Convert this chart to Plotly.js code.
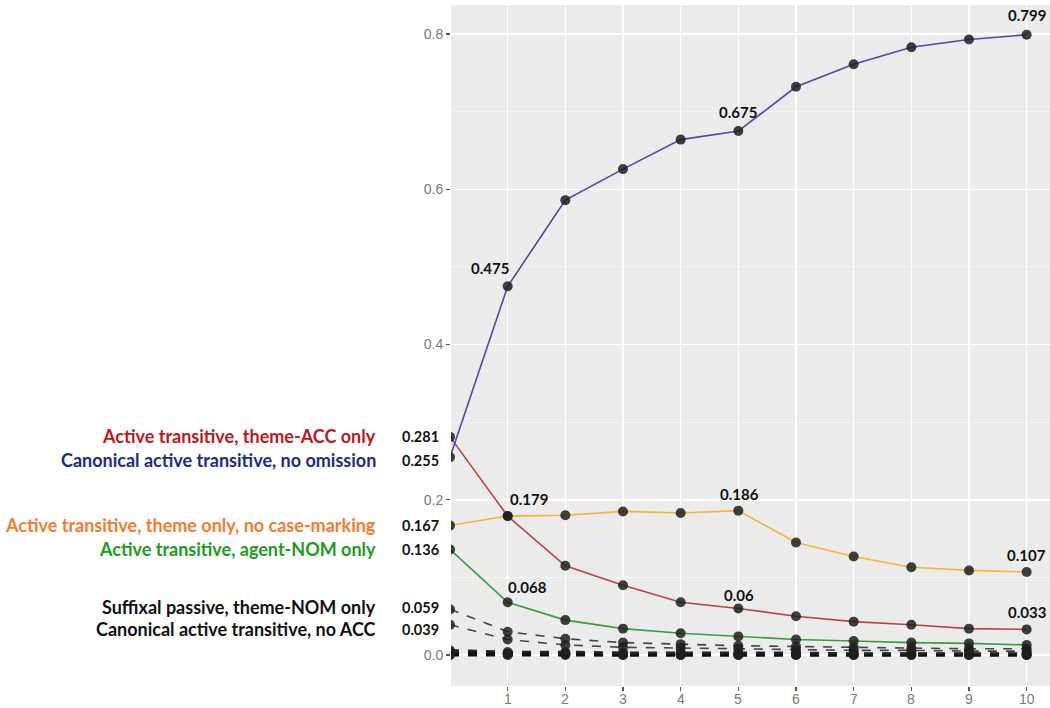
<!DOCTYPE html>
<html>
<head>
<meta charset="utf-8">
<script src="https://cdn.plot.ly/plotly-3.0.1.min.js"></script>
<style>html,body{margin:0;padding:0;background:#fff;}#chart{width:1050px;height:708px;}</style>
</head>
<body>
<div id="chart"></div>
<script>
// ---- data ----
const steps = [0, 1, 2, 3, 4, 5, 6, 7, 8, 9, 10];
const xTickVals = [1, 2, 3, 4, 5, 6, 7, 8, 9, 10];
const xTickLabels = ["1", "2", "3", "4", "5", "6", "7", "8", "9", "10"];
const yTickVals = [0, 0.2, 0.4, 0.6, 0.8];
const yTickLabels = ["0.0", "0.2", "0.4", "0.6", "0.8"];

const seriesNames = [
  "Active transitive, theme-ACC only",
  "Canonical active transitive, no omission",
  "Active transitive, theme only, no case-marking",
  "Active transitive, agent-NOM only",
  "Suffixal passive, theme-NOM only",
  "Canonical active transitive, no ACC"
];
const canonicalVals = [0.255, 0.475, 0.586, 0.626, 0.664, 0.675, 0.732, 0.761, 0.783, 0.793, 0.799];
const themeAccVals  = [0.281, 0.179, 0.115, 0.090, 0.068, 0.060, 0.050, 0.043, 0.039, 0.034, 0.033];
const themeOnlyVals = [0.167, 0.179, 0.180, 0.185, 0.183, 0.186, 0.145, 0.127, 0.113, 0.109, 0.107];
const agentNomVals  = [0.136, 0.068, 0.045, 0.034, 0.028, 0.024, 0.020, 0.018, 0.016, 0.015, 0.013];
const passiveVals   = [0.059, 0.030, 0.021, 0.016, 0.014, 0.012, 0.011, 0.010, 0.009, 0.008, 0.008];
const noAccVals     = [0.039, 0.020, 0.013, 0.010, 0.009, 0.008, 0.007, 0.006, 0.006, 0.005, 0.005];
const minorA = [0.006, 0.004, 0.004, 0.003, 0.003, 0.003, 0.003, 0.002, 0.002, 0.002, 0.002];
const minorB = [0.003, 0.002, 0.002, 0.002, 0.001, 0.001, 0.001, 0.001, 0.001, 0.001, 0.001];
const minorC = [0.001, 0.001, 0.001, 0.000, 0.000, 0.000, 0.000, 0.000, 0.000, 0.000, 0.000];
const minorD = [0.000, 0.000, 0.000, 0.000, 0.000, 0.000, 0.000, 0.000, 0.000, 0.000, 0.000];

// ---- layout constants ----
const W = 1050, H = 708;
const L = 451, R = 0, T = 5, B = 22;
const PW = W - L - R;
const FONT = "Lato, 'Open Sans', sans-serif";
const TICKFONT = "Liberation Sans, Arial, sans-serif";
const px2paper = px => (px - L) / PW;
const px2y = p => (655 - p) / 776.25;

const traces = [];
function lineTrace(y, color, width, dash) {
  traces.push({x: steps, y: y, mode: "lines", type: "scatter", hoverinfo: "skip",
    line: {color: color, width: width, dash: dash || "solid"}, showlegend: false});
}
// dashed minor series
lineTrace(minorD, "#111111", 3, "dash");
lineTrace(minorC, "#111111", 3, "dash");
lineTrace(minorB, "#111111", 3, "dash");
lineTrace(minorA, "#222222", 2.5, "dash");
lineTrace(noAccVals, "#444444", 1.6, "dash");
lineTrace(passiveVals, "#444444", 1.6, "dash");
// coloured series
lineTrace(agentNomVals, "#3c9a3c", 1.6);
lineTrace(themeOnlyVals, "#f5b233", 1.6);
lineTrace(themeAccVals, "#b34545", 1.6);
lineTrace(canonicalVals, "#4a48a8", 1.6);

[minorD, minorC, minorB, minorA, noAccVals, passiveVals, agentNomVals, themeOnlyVals, themeAccVals, canonicalVals]
  .forEach(y => traces.push({x: steps, y: y, mode: "markers", type: "scatter", hoverinfo: "skip",
    marker: {color: "#1e1e1e", size: 10, opacity: 0.85, line: {width: 0}}, showlegend: false}));

const annotations = [];
// left side labels
const leftColors = ["#c0161c", "#1c2a8c", "#f07d2e", "#1f9a24", "#111111", "#111111"];
const leftStart = [themeAccVals[0], canonicalVals[0], themeOnlyVals[0], agentNomVals[0], passiveVals[0], noAccVals[0]];
const leftPixY = [436, 460, 525, 549, 607, 629];
seriesNames.forEach((name, i) => {
  annotations.push({xref: "paper", yref: "y", x: px2paper(378), y: px2y(leftPixY[i]),
    xanchor: "right", yanchor: "middle", showarrow: false,
    text: "<b>" + name + "</b>", font: {family: FONT, size: 18, color: leftColors[i]}});
  annotations.push({xref: "paper", yref: "y", x: px2paper(441), y: px2y(leftPixY[i]),
    xanchor: "right", yanchor: "middle", showarrow: false,
    text: "<b>" + String(leftStart[i]) + "</b>", font: {family: FONT, size: 14.5, color: "#111111"}});
});

// in-plot value labels
function valLabel(arr, i, xs, ys) {
  annotations.push({xref: "x", yref: "y", x: steps[i], y: arr[i], xshift: xs, yshift: ys,
    xanchor: "center", yanchor: "middle", showarrow: false,
    text: "<b>" + String(arr[i]) + "</b>", font: {family: FONT, size: 15, color: "#111111"}});
}
valLabel(canonicalVals, 1, -18, 18);
valLabel(canonicalVals, 5, 0, 19);
valLabel(canonicalVals, 10, 0, 20);
valLabel(themeOnlyVals, 1, 21, 17);
valLabel(themeOnlyVals, 5, 1, 17);
valLabel(themeOnlyVals, 10, 0, 17);
valLabel(agentNomVals, 1, 20, 15);
valLabel(themeAccVals, 5, 1, 13);
valLabel(themeAccVals, 10, 0, 17);

// x tick labels (as annotations to keep them inside the picture)
xTickVals.forEach((v, i) => {
  annotations.push({xref: "x", yref: "paper", x: v, y: -(699 - (H - B)) / (H - T - B),
    xanchor: "center", yanchor: "middle", showarrow: false, text: xTickLabels[i],
    font: {family: TICKFONT, size: 14, color: "#7a7a7a"}});
});

const layout = {
  width: W, height: H,
  margin: {l: L, r: R, t: T, b: B, pad: 0},
  paper_bgcolor: "#ffffff", plot_bgcolor: "#ebebeb",
  showlegend: false,
  font: {family: TICKFONT, size: 14, color: "#7a7a7a"},
  xaxis: {range: [0.017, 10.405], tickmode: "array", tickvals: xTickVals, showticklabels: false,
    showgrid: true, gridcolor: "#ffffff", gridwidth: 1.5, zeroline: false, showline: false,
    ticks: "outside", ticklen: 4, tickwidth: 1.2, tickcolor: "#555555", fixedrange: true},
  yaxis: {range: [-0.0399, 0.8374], tickmode: "array", tickvals: yTickVals, ticktext: yTickLabels,
    showgrid: true, gridcolor: "#ffffff", gridwidth: 1.5, zeroline: false, showline: false,
    minor: {tickvals: [0.1, 0.3, 0.5, 0.7], showgrid: true, gridcolor: "#f6f6f6", gridwidth: 0.8, ticks: ""},
    ticks: "outside", ticklen: 4, tickwidth: 1.2, tickcolor: "#555555",
    tickfont: {family: TICKFONT, size: 14, color: "#7a7a7a"}, fixedrange: true},
  annotations: annotations
};

Plotly.newPlot("chart", traces, layout, {staticPlot: true, displayModeBar: false});
</script>
</body>
</html>
